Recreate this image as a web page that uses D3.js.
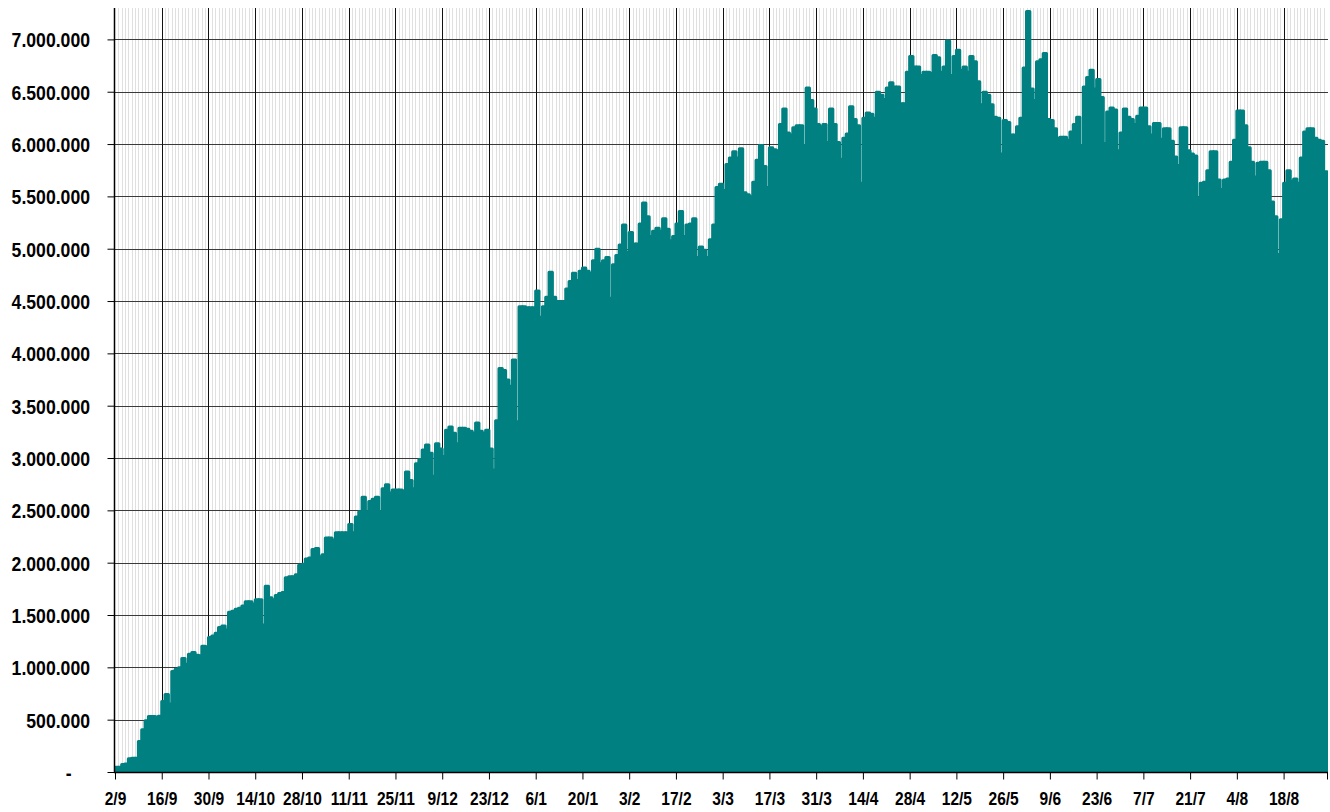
<!DOCTYPE html>
<html>
<head>
<meta charset="utf-8">
<script src="https://cdn.jsdelivr.net/npm/d3@7"></script>
<style>
  body { margin: 0; background: #fff; }
  svg text { font-family: "Liberation Sans", Arial, sans-serif; font-weight: bold; fill: #000; }
</style>
</head>
<body>
<svg id="chart"></svg>
<script>
// daily values, in thousands, one array per month (2/9 .. 30/8)
const sep = [60, 60, 85, 90, 140, 145, 145, 305, 417, 505, 544, 545, 540, 548, 687, 755, 665, 974, 995, 1010,
    1100, 1045, 1140, 1155, 1130, 1125, 1215, 1210, 1300];
const oct = [1315, 1340, 1395, 1410, 1370, 1540, 1550, 1570, 1580, 1600, 1640, 1640, 1620, 1660, 1660, 1420,
    1790, 1680, 1660, 1700, 1720, 1730, 1870, 1880, 1880, 1900, 1990, 2000, 2050, 2060, 2140];
const nov = [2150, 2070, 2090, 2250, 2250, 2230, 2300, 2300, 2300, 2300, 2380, 2300, 2450, 2500, 2640, 2500,
    2600, 2620, 2640, 2500, 2720, 2760, 2680, 2710, 2710, 2710, 2700, 2880, 2800, 2720];
const dec = [2960, 3000, 3090, 3140, 3060, 2840, 3150, 3100, 3030, 3280, 3310, 3250, 3150, 3300, 3300, 3290,
    3270, 3250, 3350, 3270, 3250, 3280, 3100, 2900, 3370, 3870, 3850, 3760, 3700, 3950, 3360];
const jan = [4460, 4460, 4450, 4450, 4450, 4610, 4360, 4460, 4550, 4790, 4550, 4510, 4510, 4510, 4630, 4700,
    4780, 4710, 4800, 4830, 4800, 4780, 4900, 5010, 4870, 4900, 4930, 4540, 4860, 4950, 5050];
const feb = [5240, 4980, 5170, 5060, 5060, 5250, 5450, 5320, 5130, 5180, 5210, 5180, 5300, 5200, 5090, 5130,
    5250, 5370, 5130, 5240, 5250, 5300, 4930, 5030, 5000, 4930, 5100, 5240];
const mar = [5600, 5630, 5570, 5820, 5880, 5940, 5880, 5970, 5550, 5530, 5510, 5650, 5860, 6000, 5800, 5600,
    5980, 5960, 5950, 6200, 6350, 6120, 6100, 6170, 6190, 6190, 6000, 6550, 6430, 6350, 6200];
const apr = [6180, 6200, 6030, 6350, 6200, 6030, 5870, 6070, 6110, 6370, 6250, 6190, 5640, 6260, 6310, 6300,
    6260, 6510, 6480, 6440, 6550, 6600, 6560, 6560, 6400, 6400, 6700, 6850, 6750, 6750];
const may = [6670, 6700, 6700, 6690, 6860, 6840, 6700, 6750, 7000, 6670, 6850, 6910, 6720, 6750, 6700, 6850,
    6800, 6610, 6390, 6510, 6480, 6390, 6270, 6260, 5920, 6240, 6220, 6100, 6100, 6180, 6260];
const jun = [6740, 7280, 6540, 6430, 6800, 6820, 6880, 6250, 6240, 6160, 6070, 6080, 6080, 6050, 6130, 6200,
    6270, 6000, 6560, 6650, 6720, 6540, 6630, 6460, 6020, 6320, 6360, 6340, 5950, 6120];
const jul = [6350, 6270, 6250, 6200, 6280, 6360, 6360, 6180, 6100, 6210, 6210, 6060, 6160, 6160, 6040, 5890,
    5810, 6170, 6170, 5950, 5920, 5900, 5500, 5640, 5650, 5760, 5940, 5940, 5670, 5580, 5670];
const aug = [5680, 5840, 6050, 6330, 6330, 6190, 5980, 5840, 5700, 5830, 5840, 5840, 5760, 5460, 5320, 4960,
    5290, 5640, 5760, 5660, 5680, 5640, 5880, 6130, 6160, 6160, 6070, 6050, 6040, 5750];

const tickLabels = ["2/9", "16/9", "30/9", "14/10", "28/10", "11/11", "25/11", "9/12", "23/12", "6/1", "20/1",
    "3/2", "17/2", "3/3", "17/3", "31/3", "14/4", "28/4", "12/5", "26/5", "9/6", "23/6", "7/7", "21/7", "4/8", "18/8"];
const yTickValues = [0, 500, 1000, 1500, 2000, 2500, 3000, 3500, 4000, 4500, 5000, 5500, 6000, 6500, 7000];

const values = [].concat(sep, oct, nov, dec, jan, feb, mar, apr, may, jun, jul, aug);
const days = d3.range(values.length);

let svgWidth = 1330;
let svgHeight = 812;
let plot = { left: 115, right: 1327, top: 8, bottom: 772 };
let narrow = 0.84; // labels are a narrow bold face

let svg = d3.select("svg#chart")
    .attr("width", svgWidth)
    .attr("height", svgHeight);

let xBand = d3.scaleBand()
    .domain(days)
    .range([plot.left, plot.right])
    .padding(0);

let yScale = d3.scaleLinear()
    .domain([0, 7300])
    .range([plot.bottom, plot.top]);

const itFormat = d3.formatLocale({ decimal: ",", thousands: ".", grouping: [3], currency: ["€", ""] }).format(",");

/* grid: one light line per day, black every two weeks */
let grid = svg.append("g");
grid.selectAll("line.minor")
    .data(days.slice(1))
    .join("line")
    .attr("x1", d => Math.round(xBand(d)) + 0.5)
    .attr("x2", d => Math.round(xBand(d)) + 0.5)
    .attr("y1", plot.top)
    .attr("y2", plot.bottom)
    .attr("stroke", "#e0e0e0")
    .attr("stroke-width", 1);

grid.selectAll("line.h")
    .data(yTickValues.slice(1))
    .join("line")
    .attr("x1", plot.left)
    .attr("x2", plot.right + 1)
    .attr("y1", d => Math.round(yScale(d)) + 0.5)
    .attr("y2", d => Math.round(yScale(d)) + 0.5)
    .attr("stroke", "#3a3a3a")
    .attr("stroke-width", 1);

const majorDays = tickLabels.map((t, i) => i * 14);
grid.selectAll("line.major")
    .data(majorDays.slice(1))
    .join("line")
    .attr("x1", d => Math.round(xBand(d)) + 0.5)
    .attr("x2", d => Math.round(xBand(d)) + 0.5)
    .attr("y1", plot.top)
    .attr("y2", plot.bottom)
    .attr("stroke", "#111")
    .attr("stroke-width", 1);

/* bars */
svg.append("clipPath").attr("id", "plotClip")
    .append("rect")
    .attr("x", plot.left)
    .attr("y", 0)
    .attr("width", plot.right - plot.left + 1)
    .attr("height", plot.bottom);

svg.append("g")
    .attr("clip-path", "url(#plotClip)")
    .selectAll("rect")
    .data(days)
    .join("rect")
    .attr("x", d => xBand(d))
    .attr("width", xBand.bandwidth())
    .attr("y", d => yScale(values[d]) + 1.5)
    .attr("height", d => plot.bottom - yScale(values[d]))
    .attr("fill", "#008080")
    .attr("stroke", "#008080")
    .attr("stroke-width", 3)
    .attr("stroke-linejoin", "round");

/* axes */
let yAxis = d3.axisLeft(yScale)
    .tickValues(yTickValues)
    .tickSize(7)
    .tickFormat(d => d === 0 ? "-" : itFormat(d * 1000));

let yAxisG = svg.append("g")
    .attr("transform", "translate(" + (plot.left - 0.5) + ",0)")
    .call(yAxis);
yAxisG.select("path.domain").remove();
yAxisG.selectAll(".tick line").attr("stroke", "#000");
yAxisG.selectAll(".tick text")
    .style("font-size", "21px")
    .attr("dy", "0.36em")
    .attr("x", d => (d === 0 ? -43 : -24.5) / narrow)
    .attr("transform", "scale(" + narrow + ",1)");

let xTickScale = d3.scaleLinear()
    .domain([0, values.length])
    .range([plot.left, plot.right]);

let xAxis = d3.axisBottom(xTickScale)
    .tickValues(majorDays.concat([values.length]))
    .tickSize(7)
    .tickPadding(12)
    .tickFormat(d => tickLabels[d / 14] || "");

let xAxisG = svg.append("g")
    .attr("transform", "translate(0," + (plot.bottom + 0.5) + ")")
    .call(xAxis);
xAxisG.select("path.domain").remove();
xAxisG.selectAll(".tick line").attr("stroke", "#000");
xAxisG.selectAll(".tick text")
    .style("font-size", "18.5px")
    .attr("transform", "scale(" + narrow + ",1)");

/* axis lines */
svg.append("line")
    .attr("x1", plot.left - 0.5).attr("x2", plot.left - 0.5)
    .attr("y1", plot.top).attr("y2", plot.bottom + 1)
    .attr("stroke", "#000").attr("stroke-width", 1.5);
svg.append("line")
    .attr("x1", plot.left - 1).attr("x2", plot.right + 1)
    .attr("y1", plot.bottom + 0.5).attr("y2", plot.bottom + 0.5)
    .attr("stroke", "#000").attr("stroke-width", 1.5);
</script>
</body>
</html>
